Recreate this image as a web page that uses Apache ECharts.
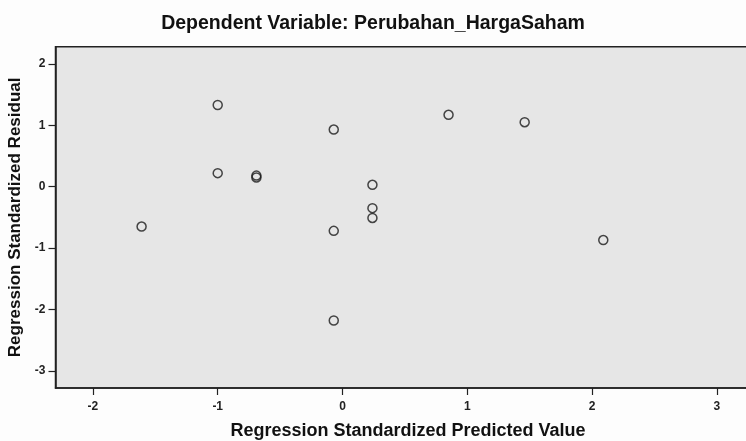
<!DOCTYPE html>
<html>
<head>
<meta charset="utf-8">
<script src="https://cdn.jsdelivr.net/npm/echarts@6/dist/echarts.min.js"></script>
<style>
html,body{margin:0;padding:0;background:#fdfdfd;}
#chart{width:746px;height:441px;}
</style>
</head>
<body>
<div id="chart"></div>
<script>
// Data
const predictedValues = [-1.00, -1.00, -0.69, -0.69, -1.61, -0.07, -0.07, 0.24, 0.24, 0.24, 0.85, 1.46, -0.07, 2.09];
const residualValues  = [ 1.33,  0.22,  0.18,  0.15, -0.65,  0.93, -0.72, 0.03, -0.35, -0.51, 1.17, 1.05, -2.18, -0.87];
const xTickValues = [-2, -1, 0, 1, 2, 3];
const yTickValues = [-3, -2, -1, 0, 1, 2];
const chartTitle = 'Dependent Variable: Perubahan_HargaSaham';
const xAxisTitle = 'Regression Standardized Predicted Value';
const yAxisTitle = 'Regression Standardized Residual';

const points = predictedValues.map((x, i) => [x, residualValues[i]]);
const font = '"Liberation Sans", Arial, sans-serif';

const chart = echarts.init(document.getElementById('chart'), null, {renderer: 'canvas'});
chart.setOption({
  animation: false,
  backgroundColor: '#fdfdfd',
  title: {
    text: chartTitle,
    left: 'center',
    top: 9,
    textStyle: {fontFamily: font, fontWeight: 'bold', fontSize: 19.5, color: '#111'}
  },
  grid: {
    left: 55.5, width: 705, top: 46.7, bottom: 53,
    outerBoundsMode: 'none', containLabel: false,
    show: true, backgroundColor: '#e6e6e6', borderColor: '#222', borderWidth: 1.5
  },
  xAxis: {
    type: 'value', min: -2.3, max: 3.35,
    name: xAxisTitle, nameLocation: 'middle', nameGap: 34,
    nameTextStyle: {fontFamily: font, fontWeight: 'bold', fontSize: 18, color: '#111'},
    axisLine: {show: true, onZero: false, lineStyle: {color: '#222', width: 1.5}},
    axisTick: {show: true, length: 7, customValues: xTickValues, lineStyle: {color: '#222', width: 1.2}},
    axisLabel: {show: true, margin: 13, customValues: xTickValues, fontFamily: font, fontWeight: 'bold', fontSize: 12, color: '#222'},
    splitLine: {show: false}
  },
  yAxis: {
    type: 'value', min: -3.28, max: 2.28,
    name: yAxisTitle, nameLocation: 'middle', nameGap: 27, nameRotate: 90,
    nameTextStyle: {fontFamily: font, fontWeight: 'bold', fontSize: 17, color: '#111'},
    axisLine: {show: true, onZero: false, lineStyle: {color: '#222', width: 1.5}},
    axisTick: {show: true, length: 7, customValues: yTickValues, lineStyle: {color: '#222', width: 1.2}},
    axisLabel: {show: true, margin: 10, customValues: yTickValues, fontFamily: font, fontWeight: 'bold', fontSize: 12, color: '#222'},
    splitLine: {show: false}
  },
  series: [{
    type: 'scatter',
    data: points,
    symbol: 'circle',
    symbolSize: 9,
    itemStyle: {color: 'rgba(0,0,0,0)', borderColor: '#1a1a1a', borderWidth: 1.5}
  }]
});
</script>
</body>
</html>
